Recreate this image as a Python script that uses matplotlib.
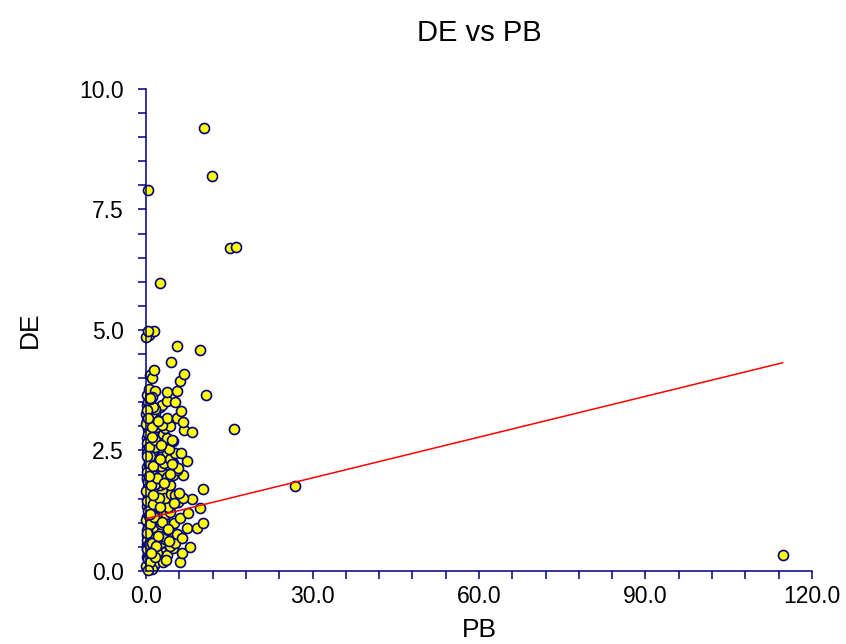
import matplotlib
matplotlib.use("Agg")
import matplotlib.pyplot as plt
from matplotlib.ticker import MultipleLocator, FormatStrFormatter

plt.rcParams["font.family"] = ["Liberation Sans", "DejaVu Sans"]

# dense cluster near the origin, read band by band (PB, DE)
cluster_pb = [
    0.1, 0.4, 0.9, 1.5, 2.3, 0.2, 3.1, 1.1, 6.1, 0.6,
    0.3, 0.8, 1.4, 2.0, 2.8, 3.7, 4.9, 6.4, 0.1, 1.9,
    0.2, 0.7, 1.2, 1.8, 2.2, 2.9, 3.4, 4.3, 5.2, 7.9,
    0.1, 0.5, 1.0, 1.6, 2.5, 3.0, 3.9, 4.6, 5.6, 6.4,
    0.3, 0.6, 1.3, 2.0, 2.7, 3.3, 4.1, 5.0, 7.3, 9.1,
    0.2, 0.9, 1.5, 2.2, 3.0, 3.6, 4.4, 6.1, 7.6, 10.3,
    0.1, 0.6, 1.1, 1.8, 2.4, 3.2, 4.0, 5.8, 8.2, 9.7,
    0.4, 0.8, 1.4, 2.1, 2.9, 3.5, 4.5, 5.3, 6.7, 0.2,
    0.3, 0.7, 1.2, 1.9, 2.6, 3.4, 4.3, 10.3, 0.1, 1.6,
    0.2, 0.5, 1.0, 1.7, 2.3, 3.1, 3.8, 4.9, 6.7, 5.5,
    0.1, 0.6, 1.3, 2.0, 2.7, 3.3, 4.9, 5.8, 7.3, 0.9,
    0.3, 0.8, 1.5, 2.2, 2.9, 3.7, 4.4, 5.2, 6.3, 1.1,
    0.2, 0.7, 1.2, 1.9, 2.5, 3.2, 4.1, 4.9, 0.4, 1.6,
    0.1, 0.5, 1.0, 1.6, 2.3, 3.0, 3.8, 4.6, 6.9, 8.2,
    0.3, 0.6, 1.4, 2.0, 2.8, 3.5, 4.3, 0.9, 1.8, 2.4,
    0.1, 0.5, 1.0, 1.7, 2.8, 3.7, 5.5, 6.7, 0.3, 1.3,
    0.7, 1.0, 2.5, 6.3, 0.2, 0.8, 2.8, 1.6, 0.4, 1.2,
    0.2, 0.7, 3.7, 5.2, 0.5, 1.7, 3.8, 5.5, 10.8, 0.8,
    1.1, 6.1, 1.4, 6.9, 4.5, 0.6, 1.1, 0.0, 1.4, 0.3,
    0.0, 0.1, 0.2, 0.3, 0.05, 0.15, 0.25, 0.4, 0.0, 0.1,
    0.05, 0.2, 0.35, 0.5, 0.1, 0.0, 0.3, 0.15, 0.45, 0.6,
    0.8, 1.1, 0.7, 1.3, 0.9, 1.2, 0.6, 1.0, 0.8, 1.4,
    1.7, 2.1, 1.5, 2.4, 1.9, 2.6, 1.6, 2.2, 1.8, 2.5,
    0.4, 0.9, 0.2, 0.7, 1.2, 0.5, 0.1, 1.0, 0.3, 0.8,
    3.6, 4.2, 2.9, 5.1, 3.3, 4.7, 2.7, 3.9, 5.9, 4.4,
]
cluster_de = [
    0.08, 0.15, 0.22, 0.12, 0.28, 0.30, 0.18, 0.05, 0.18, 0.25,
    0.35, 0.42, 0.31, 0.48, 0.40, 0.33, 0.47, 0.37, 0.45, 0.38,
    0.55, 0.62, 0.51, 0.68, 0.54, 0.60, 0.66, 0.52, 0.58, 0.50,
    0.75, 0.82, 0.71, 0.88, 0.79, 0.73, 0.86, 0.82, 0.76, 0.68,
    0.95, 1.05, 0.92, 1.08, 0.98, 1.03, 0.94, 1.00, 0.90, 0.90,
    1.12, 1.20, 1.28, 1.15, 1.25, 1.18, 1.22, 1.09, 1.20, 0.99,
    1.35, 1.42, 1.32, 1.48, 1.38, 1.45, 1.33, 1.44, 1.49, 1.31,
    1.55, 1.62, 1.68, 1.58, 1.65, 1.52, 1.60, 1.57, 1.52, 1.66,
    1.75, 1.82, 1.72, 1.88, 1.78, 1.85, 1.78, 1.70, 1.90, 1.80,
    1.95, 2.05, 1.92, 2.08, 1.98, 2.03, 1.94, 2.00, 1.99, 2.10,
    2.15, 2.22, 2.12, 2.28, 2.18, 2.25, 2.23, 2.13, 2.28, 2.30,
    2.35, 2.42, 2.32, 2.48, 2.38, 2.45, 2.33, 2.44, 2.45, 2.50,
    2.55, 2.62, 2.52, 2.68, 2.58, 2.65, 2.54, 2.70, 2.66, 2.58,
    2.75, 2.82, 2.72, 2.88, 2.78, 2.85, 2.75, 2.72, 2.93, 2.89,
    2.95, 3.05, 2.92, 3.08, 3.03, 2.97, 3.00, 3.10, 2.98, 3.12,
    3.13, 3.22, 3.18, 3.28, 3.03, 3.17, 3.18, 3.10, 3.30, 3.25,
    3.37, 3.27, 3.41, 3.31, 3.45, 3.46, 3.44, 3.36, 3.50, 3.40,
    3.65, 3.57, 3.53, 3.51, 3.78, 3.74, 3.72, 3.73, 3.65, 4.07,
    4.00, 3.94, 4.18, 4.08, 4.33, 4.90, 3.60, 4.85, 4.97, 4.97,
    0.10, 0.45, 0.85, 1.25, 1.65, 2.05, 2.45, 2.85, 3.25, 0.65,
    1.05, 1.45, 1.85, 2.25, 2.65, 3.05, 0.25, 3.35, 0.55, 1.15,
    0.18, 0.58, 0.98, 1.38, 1.78, 2.18, 2.58, 2.98, 2.38, 1.98,
    0.28, 0.72, 1.12, 1.52, 1.92, 2.32, 2.72, 3.12, 0.52, 1.32,
    0.02, 0.38, 0.78, 1.18, 1.58, 1.98, 2.38, 2.78, 3.18, 3.58,
    0.22, 0.62, 1.02, 1.42, 1.82, 2.22, 2.62, 0.88, 1.62, 2.02,
]

# isolated points away from the cluster
outlier_pb = [114.7, 26.8, 10.4, 11.9, 15.1, 16.2, 0.36, 2.5, 15.9, 9.7, 5.5]
outlier_de = [0.33, 1.76, 9.19, 8.20, 6.70, 6.72, 7.90, 5.97, 2.95, 4.58, 4.67]

# least-squares line end points as drawn
fit_pb = [0.0, 114.7]
fit_de = [1.085, 4.32]

navy = "#000080"

fig = plt.figure(figsize=(8.46, 6.44), dpi=100)
ax = fig.add_axes([0.1726, 0.1134, 0.7872, 0.7484])

ax.scatter(cluster_pb + outlier_pb, cluster_de + outlier_de, s=52,
           facecolor="#FFFF00", edgecolor=navy, linewidths=1.2,
           zorder=2, clip_on=False)
ax.plot(fit_pb, fit_de, color="red", lw=1.1, zorder=3)

ax.set_xlim(0, 120)
ax.set_ylim(0, 10)
ax.xaxis.set_major_locator(MultipleLocator(30))
ax.xaxis.set_minor_locator(MultipleLocator(6))
ax.yaxis.set_major_locator(MultipleLocator(2.5))
ax.yaxis.set_minor_locator(MultipleLocator(0.5))
ax.xaxis.set_major_formatter(FormatStrFormatter("%.1f"))
ax.yaxis.set_major_formatter(FormatStrFormatter("%.1f"))

for side in ("top", "right"):
    ax.spines[side].set_visible(False)
for side in ("left", "bottom"):
    ax.spines[side].set_color(navy)
    ax.spines[side].set_linewidth(1.1)

ax.tick_params(which="both", direction="out", length=6, width=1.1,
               color=navy, labelcolor="black", labelsize=16.5)
ax.tick_params(axis="x", which="both", pad=4)
ax.tick_params(axis="y", which="both", pad=10)

ax.set_xlabel("PB", fontsize=19, labelpad=7)
ax.set_ylabel("DE", fontsize=19, labelpad=27)
fig.text(0.566, 0.948, "DE vs PB", fontsize=21, ha="center", va="center")

fig.savefig("out.png", dpi=100)
